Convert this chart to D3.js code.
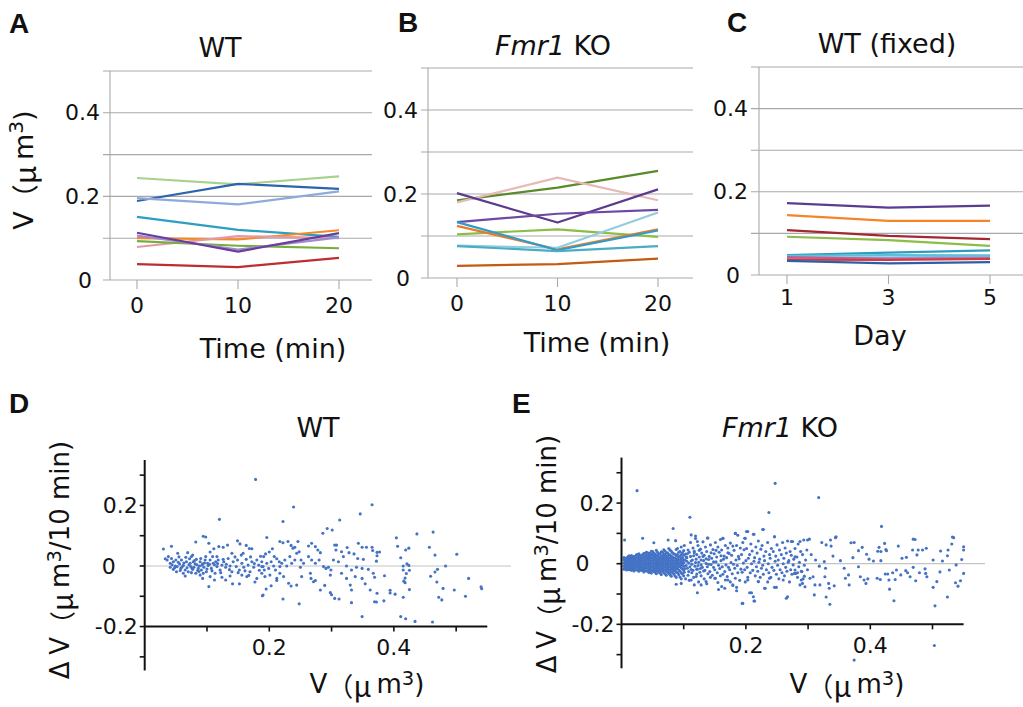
<!DOCTYPE html>
<html><head><meta charset="utf-8">
<script src="https://cdn.jsdelivr.net/npm/d3@7/dist/d3.min.js"></script>
<style>
html,body{margin:0;padding:0;background:#fff;}
svg{display:block;}
text{font-family:"DejaVu Sans","Noto Sans CJK JP",sans-serif;fill:#111;}
.cjk{font-family:"Noto Sans CJK JP",sans-serif;}
.letter{font-family:"Liberation Sans",Arial,sans-serif;font-weight:bold;}
</style></head>
<body>
<svg id="chart" width="1023" height="707"></svg>
<script>
// ---------------- DATA ----------------
const timeMin = [0, 10, 20];
const days = [1, 3, 5];
const lineYTicks = [0, 0.1, 0.2, 0.3, 0.4, 0.5];
const lineYLabels = [0, 0.2, 0.4];

// Panel A: WT spine volume (µm3) at 0, 10, 20 min
const wtSeries = [
  [0.244, 0.229, 0.248],
  [0.189, 0.230, 0.218],
  [0.196, 0.181, 0.212],
  [0.151, 0.120, 0.103],
  [0.100, 0.097, 0.119],
  [0.079, 0.105, 0.100],
  [0.093, 0.082, 0.076],
  [0.106, 0.073, 0.102],
  [0.113, 0.068, 0.112],
  [0.038, 0.031, 0.053]
];
const wtColors = ["#a9d18e","#2e63ad","#8eaadc","#2c9fc0","#f28a26","#e39aa3","#78ad3c","#a08bd2","#6a3f9b","#bb2f2f"];

// Panel B: Fmr1 KO spine volume
const koSeries = [
  [0.185, 0.215, 0.255],
  [0.180, 0.239, 0.185],
  [0.202, 0.132, 0.211],
  [0.133, 0.153, 0.162],
  [0.104, 0.116, 0.098],
  [0.124, 0.068, 0.116],
  [0.077, 0.072, 0.156],
  [0.133, 0.066, 0.113],
  [0.076, 0.064, 0.076],
  [0.029, 0.033, 0.046]
];
const koColors = ["#5a8a2a","#e7b9b8","#5b3b8e","#6f48a3","#8cbd47","#e8792a","#92cddc","#2f9bc8","#4bacc6","#c55a11"];

// Panel C: WT fixed, days 1, 3, 5
const fixedSeries = [
  [0.173, 0.162, 0.167],
  [0.144, 0.130, 0.130],
  [0.108, 0.094, 0.086],
  [0.092, 0.084, 0.070],
  [0.048, 0.054, 0.059],
  [0.046, 0.048, 0.047],
  [0.042, 0.042, 0.044],
  [0.043, 0.039, 0.040],
  [0.037, 0.036, 0.039],
  [0.034, 0.028, 0.031]
];
const fixedColors = ["#5b3d8f","#f4862a","#a3282f","#8cbd4a","#2d9cbf","#5bc0d8","#7fb2e0","#c0609a","#d63a3a","#2f5ea8"];

const scatterXTicks = [0.1, 0.2, 0.3, 0.4, 0.5];
const scatterXLabels = [0.2, 0.4];
const scatterYTicks = [-0.3, -0.2, -0.1, 0, 0.1, 0.2, 0.3];
const scatterYLabels = [-0.2, 0, 0.2];

// Panel D: WT, V vs dV (per 10 min)
const wtScatter = [
[0.178,0.286],[0.120,0.154],[0.094,0.098],[0.098,0.096],[0.030,0.056],[0.043,0.065],[0.082,0.079],[0.103,0.075],
[0.053,0.042],[0.069,0.044],[0.077,0.036],[0.111,0.057],[0.119,0.064],[0.126,0.062],[0.133,0.069],[0.149,0.083],
[0.153,0.073],[0.163,0.068],[0.168,0.058],[0.172,0.057],[0.105,0.046],[0.116,0.031],[0.140,0.042],[0.158,0.042],
[0.033,0.024],[0.036,0.020],[0.041,0.009],[0.046,0.014],[0.049,0.000],[0.052,-0.002],[0.056,0.007],[0.058,-0.008],
[0.062,0.002],[0.065,-0.013],[0.067,0.014],[0.072,0.024],[0.074,-0.002],[0.075,0.031],[0.078,0.014],[0.081,0.007],
[0.083,0.022],[0.086,-0.008],[0.088,0.000],[0.089,0.014],[0.091,-0.013],[0.093,0.007],[0.095,-0.004],[0.097,0.020],
[0.099,-0.019],[0.102,0.002],[0.105,0.020],[0.107,-0.008],[0.110,0.009],[0.113,-0.024],[0.116,-0.002],[0.118,0.020],
[0.121,-0.013],[0.124,0.003],[0.127,0.014],[0.130,-0.004],[0.134,0.025],[0.137,0.000],[0.140,-0.019],[0.142,0.014],
[0.147,-0.002],[0.149,0.020],[0.152,-0.013],[0.156,0.009],[0.159,-0.004],[0.163,0.022],[0.166,0.003],[0.169,-0.019],
[0.172,0.014],[0.175,-0.004],[0.180,0.020],[0.183,0.003],[0.188,0.014],[0.190,-0.002],
[0.062,-0.024],[0.065,-0.033],[0.075,-0.022],[0.089,-0.030],[0.094,-0.024],[0.105,-0.035],[0.093,-0.041],[0.112,-0.046],
[0.124,-0.037],[0.130,-0.046],[0.141,-0.059],[0.152,-0.059],[0.167,-0.031],[0.177,-0.053],[0.164,-0.035],[0.156,-0.030],
[0.137,-0.033],[0.103,-0.068],[0.189,-0.098],[0.180,-0.041],[0.188,-0.024],[0.041,-0.004],[0.046,-0.011],[0.051,-0.019],
[0.057,-0.015],[0.038,0.031],[0.043,0.025],[0.050,0.020],[0.059,0.020],[0.066,0.029],[0.079,-0.004],[0.085,-0.015],
[0.082,-0.024],[0.070,-0.019],[0.073,0.009],[0.077,-0.011],[0.090,0.025],[0.098,0.031],[0.101,0.009],[0.109,0.031],
[0.114,0.014],[0.044,0.004],[0.048,-0.006],[0.054,0.012],[0.060,-0.003],[0.063,0.010],[0.068,-0.006],[0.071,0.004],
[0.076,-0.008],[0.080,0.018],[0.084,0.004],[0.087,-0.018],[0.092,0.003],[0.096,0.010],[0.100,-0.010],[0.104,0.006],
[0.108,-0.016],[0.112,0.004],[0.117,0.008],[0.122,-0.022],[0.126,0.022],[0.131,0.006],[0.136,-0.012],[0.145,0.030],
[0.150,-0.022],[0.155,0.036],[0.161,-0.016],[0.170,0.030],[0.176,0.008],[0.184,-0.014],[0.186,0.032],[0.055,0.030],
[0.239,0.195],[0.222,0.147],[0.196,0.094],[0.365,0.202],[0.346,0.172],[0.313,0.152],[0.286,0.108],[0.293,0.124],
[0.301,0.119],[0.217,0.081],[0.222,0.077],[0.230,0.081],[0.246,0.081],[0.235,0.068],[0.241,0.062],[0.238,0.059],
[0.268,0.075],[0.263,0.066],[0.274,0.064],[0.278,0.053],[0.282,0.044],[0.305,0.069],[0.308,0.069],[0.307,0.053],
[0.316,0.047],[0.325,0.061],[0.328,0.044],[0.336,0.040],[0.343,0.075],[0.349,0.062],[0.356,0.062],[0.365,0.062],
[0.366,0.051],[0.351,0.022],[0.342,0.025],
[0.191,0.031],[0.194,0.040],[0.200,0.046],[0.205,0.057],[0.208,0.031],[0.212,0.024],[0.216,0.014],[0.203,0.014],
[0.196,0.009],[0.188,-0.002],[0.192,-0.013],[0.199,-0.008],[0.207,0.000],[0.210,-0.013],[0.217,-0.002],[0.220,0.009],
[0.225,0.020],[0.228,0.000],[0.233,0.031],[0.236,0.009],[0.241,0.020],[0.244,0.042],[0.248,0.047],[0.251,0.020],
[0.250,-0.004],[0.255,0.009],[0.263,0.031],[0.268,0.020],[0.274,0.009],[0.280,0.020],[0.287,-0.002],[0.291,-0.008],
[0.295,-0.004],[0.299,-0.013],[0.303,0.020],[0.311,0.014],[0.319,0.031],[0.324,0.000],[0.332,-0.013],[0.340,-0.004],
[0.349,-0.008],[0.359,-0.011],[0.367,-0.024],
[0.193,-0.035],[0.201,-0.030],[0.212,-0.041],[0.217,-0.024],[0.223,-0.035],[0.231,-0.057],[0.235,-0.066],[0.244,-0.063],
[0.252,-0.035],[0.266,-0.024],[0.267,-0.041],[0.271,-0.052],[0.274,-0.048],[0.282,-0.079],[0.289,-0.064],[0.298,-0.030],
[0.298,-0.088],[0.300,-0.095],[0.305,-0.107],[0.312,-0.109],[0.316,-0.024],[0.324,-0.041],[0.330,-0.063],[0.332,-0.079],
[0.332,-0.121],[0.338,-0.035],[0.349,-0.041],[0.354,-0.059],[0.362,-0.079],[0.372,-0.119],[0.349,-0.167],[0.248,-0.125],
[0.222,-0.109],[0.195,-0.076],[0.190,-0.096],[0.203,-0.065],[0.212,-0.048],
[0.373,0.045],[0.377,0.046],[0.373,0.034],[0.372,0.016],[0.369,-0.037],[0.385,-0.032],[0.373,-0.090],[0.369,-0.118],
[0.384,-0.115],[0.394,-0.080],[0.394,-0.089],[0.402,-0.093],[0.404,0.093],[0.406,0.065],[0.411,0.027],[0.415,0.000],
[0.415,-0.013],[0.419,0.053],[0.424,0.059],[0.421,0.007],[0.424,0.002],[0.425,-0.014],[0.420,-0.025],[0.418,-0.040],
[0.416,-0.050],[0.418,-0.055],[0.425,-0.078],[0.415,-0.103],[0.411,-0.167],[0.419,-0.174],[0.434,-0.183],[0.437,0.106],
[0.463,0.112],[0.457,0.062],[0.466,0.036],[0.470,-0.011],[0.466,-0.020],[0.459,-0.034],[0.469,-0.053],[0.483,0.000],
[0.479,-0.074],[0.472,-0.103],[0.477,-0.112],[0.462,-0.185],[0.501,0.039],[0.520,-0.041],[0.497,-0.079],[0.515,-0.100],
[0.540,-0.069],[0.541,-0.075]
];

// Panel E: Fmr1 KO, V vs dV (per 10 min)
const koScatter = [
[0.004,-0.018],[0.004,-0.008],[0.004,0.002],[0.004,0.012],[0.004,0.020],
[0.008,-0.021],[0.008,-0.011],[0.008,-0.001],[0.008,0.009],[0.008,0.019],
[0.012,-0.020],[0.012,-0.010],[0.012,0.000],[0.012,0.010],[0.012,0.020],[0.012,0.026],
[0.016,-0.022],[0.016,-0.012],[0.016,-0.003],[0.016,0.007],[0.016,0.017],[0.016,0.027],
[0.020,-0.024],[0.020,-0.014],[0.020,-0.004],[0.020,0.006],[0.020,0.016],[0.020,0.024],
[0.024,-0.021],[0.024,-0.011],[0.024,-0.001],[0.024,0.009],[0.024,0.019],[0.024,0.029],
[0.028,-0.025],[0.028,-0.015],[0.028,-0.005],[0.028,0.005],[0.028,0.015],[0.028,0.025],[0.028,0.033],
[0.032,-0.022],[0.032,-0.012],[0.032,-0.002],[0.032,0.008],[0.032,0.018],[0.032,0.028],
[0.036,-0.027],[0.036,-0.017],[0.036,-0.007],[0.036,0.003],[0.036,0.013],[0.036,0.023],[0.036,0.034],
[0.040,-0.024],[0.040,-0.014],[0.040,-0.004],[0.040,0.006],[0.040,0.016],[0.040,0.026],[0.040,0.038],
[0.044,-0.029],[0.044,-0.019],[0.044,-0.009],[0.044,0.001],[0.044,0.011],[0.044,0.021],[0.044,0.031],
[0.048,-0.031],[0.048,-0.021],[0.048,-0.011],[0.048,-0.001],[0.048,0.009],[0.048,0.019],[0.048,0.029],[0.048,0.041],
[0.052,-0.026],[0.052,-0.016],[0.052,-0.006],[0.052,0.004],[0.052,0.014],[0.052,0.024],[0.052,0.035],
[0.056,-0.033],[0.056,-0.023],[0.056,-0.013],[0.056,-0.003],[0.056,0.007],[0.056,0.017],[0.056,0.027],[0.056,0.044],
[0.060,-0.028],[0.060,-0.018],[0.060,-0.008],[0.060,0.002],[0.060,0.012],[0.060,0.022],[0.060,0.032],
[0.064,-0.036],[0.064,-0.024],[0.064,-0.014],[0.064,-0.004],[0.064,0.006],[0.064,0.016],[0.064,0.026],[0.064,0.039],
[0.068,-0.030],[0.068,-0.020],[0.068,-0.010],[0.068,0.000],[0.068,0.010],[0.068,0.020],[0.068,0.031],[0.068,0.046],
[0.072,-0.038],[0.072,-0.025],[0.072,-0.015],[0.072,-0.005],[0.072,0.005],[0.072,0.015],[0.072,0.025],[0.072,0.036],
[0.076,-0.032],[0.076,-0.021],[0.076,-0.011],[0.076,-0.001],[0.076,0.009],[0.076,0.019],[0.076,0.030],[0.076,0.050],
[0.080,-0.041],[0.080,-0.027],[0.080,-0.016],[0.080,-0.006],[0.080,0.004],[0.080,0.014],[0.080,0.024],[0.080,0.041],
[0.084,-0.034],[0.084,-0.022],[0.084,-0.012],[0.084,-0.002],[0.084,0.008],[0.084,0.018],[0.084,0.033],
[0.088,-0.045],[0.088,-0.028],[0.088,-0.017],[0.088,-0.007],[0.088,0.003],[0.088,0.013],[0.088,0.026],[0.088,0.047],
[0.092,-0.036],[0.092,-0.021],[0.092,-0.010],[0.092,0.001],[0.092,0.011],[0.092,0.022],[0.092,0.038],
[0.096,-0.050],[0.096,-0.030],[0.096,-0.014],[0.096,-0.004],[0.096,0.006],[0.096,0.017],[0.096,0.030],[0.096,0.055],
[0.100,-0.040],[0.100,-0.022],[0.100,-0.008],[0.100,0.003],[0.100,0.013],[0.100,0.028],[0.100,0.043],
[0.006,-0.014],[0.006,-0.004],[0.006,0.006],[0.006,0.015],
[0.010,-0.016],[0.010,-0.006],[0.010,0.004],[0.010,0.014],[0.010,0.022],
[0.014,-0.017],[0.014,-0.007],[0.014,0.004],[0.014,0.014],[0.014,0.023],
[0.018,-0.019],[0.018,-0.008],[0.018,0.002],[0.018,0.012],[0.018,0.021],
[0.022,-0.018],[0.022,-0.006],[0.022,0.004],[0.022,0.014],[0.022,0.024],
[0.026,-0.020],[0.026,-0.010],[0.026,0.000],[0.026,0.010],[0.026,0.020],[0.026,0.030],
[0.030,-0.019],[0.030,-0.008],[0.030,0.003],[0.030,0.013],[0.030,0.023],
[0.034,-0.022],[0.034,-0.012],[0.034,-0.002],[0.034,0.008],[0.034,0.018],[0.034,0.029],
[0.038,-0.020],[0.038,-0.009],[0.038,0.001],[0.038,0.011],[0.038,0.021],[0.038,0.031],
[0.042,-0.024],[0.042,-0.014],[0.042,-0.004],[0.042,0.006],[0.042,0.016],[0.042,0.026],[0.042,0.036],
[0.046,-0.026],[0.046,-0.016],[0.046,-0.006],[0.046,0.004],[0.046,0.014],[0.046,0.024],[0.046,0.034],
[0.050,-0.022],[0.050,-0.011],[0.050,-0.001],[0.050,0.009],[0.050,0.019],[0.050,0.030],[0.050,0.040],
[0.054,-0.028],[0.054,-0.018],[0.054,-0.008],[0.054,0.002],[0.054,0.012],[0.054,0.022],[0.054,0.032],
[0.058,-0.024],[0.058,-0.013],[0.058,-0.003],[0.058,0.007],[0.058,0.017],[0.058,0.028],[0.058,0.038],
[0.062,-0.031],[0.062,-0.019],[0.062,-0.009],[0.062,0.001],[0.062,0.011],[0.062,0.021],[0.062,0.033],
[0.066,-0.025],[0.066,-0.015],[0.066,-0.005],[0.066,0.005],[0.066,0.015],[0.066,0.025],[0.066,0.038],
[0.070,-0.033],[0.070,-0.020],[0.070,-0.010],[0.070,0.000],[0.070,0.010],[0.070,0.020],[0.070,0.030],[0.070,0.042],
[0.074,-0.027],[0.074,-0.016],[0.074,-0.006],[0.074,0.004],[0.074,0.014],[0.074,0.024],[0.074,0.036],
[0.078,-0.036],[0.078,-0.022],[0.078,-0.011],[0.078,-0.001],[0.078,0.009],[0.078,0.019],[0.078,0.029],[0.078,0.045],
[0.082,-0.029],[0.082,-0.017],[0.082,-0.007],[0.082,0.003],[0.082,0.013],[0.082,0.023],[0.082,0.036],
[0.086,-0.040],[0.086,-0.023],[0.086,-0.012],[0.086,-0.002],[0.086,0.008],[0.086,0.019],[0.086,0.031],
[0.090,-0.030],[0.090,-0.016],[0.090,-0.005],[0.090,0.006],[0.090,0.017],[0.090,0.030],[0.090,0.050],
[0.094,-0.044],[0.094,-0.025],[0.094,-0.009],[0.094,0.001],[0.094,0.012],[0.094,0.024],[0.094,0.040],
[0.098,-0.034],[0.098,-0.017],[0.098,-0.003],[0.098,0.008],[0.098,0.020],[0.098,0.036],
[0.101,0.060],[0.103,0.032],[0.102,0.012],[0.104,-0.006],[0.101,-0.028],[0.103,-0.050],[0.104,0.022],[0.102,-0.016],
[0.107,0.045],[0.105,0.020],[0.108,0.002],[0.106,-0.015],[0.107,-0.038],[0.106,0.033],[0.108,-0.026],[0.105,0.008],
[0.111,0.070],[0.109,0.038],[0.112,0.009],[0.110,-0.010],[0.113,-0.030],[0.109,-0.055],[0.111,0.024],[0.112,-0.019],
[0.115,0.052],[0.116,0.026],[0.113,-0.002],[0.115,-0.022],[0.116,-0.045],[0.114,0.012],[0.117,0.036],
[0.119,0.083],[0.117,0.041],[0.120,0.015],[0.118,-0.008],[0.121,-0.034],[0.117,-0.070],[0.119,0.004],[0.121,-0.018],
[0.123,0.060],[0.121,0.030],[0.124,0.005],[0.122,-0.018],[0.120,-0.042],[0.125,0.044],[0.123,-0.006],
[0.127,0.048],[0.125,0.022],[0.128,-0.004],[0.126,-0.028],[0.124,-0.060],[0.128,0.012],[0.127,-0.016],
[0.131,0.072],[0.129,0.035],[0.132,0.010],[0.130,-0.012],[0.128,-0.040],[0.131,0.024],[0.132,-0.024],
[0.135,0.055],[0.133,0.028],[0.136,0.001],[0.134,-0.022],[0.133,-0.050],[0.136,0.016],
[0.139,0.085],[0.137,0.040],[0.140,0.014],[0.138,-0.010],[0.139,-0.033],[0.137,-0.066],[0.140,-0.002],
[0.143,0.062],[0.141,0.024],[0.144,-0.003],[0.142,-0.026],[0.143,-0.045],[0.144,0.036],
[0.147,0.047],[0.145,0.018],[0.148,-0.012],[0.146,-0.038],[0.148,0.006],
[0.151,0.070],[0.149,0.033],[0.152,0.006],[0.150,-0.020],[0.151,-0.048],[0.152,0.044],
[0.155,0.055],[0.153,0.022],[0.156,-0.005],[0.154,-0.030],[0.155,-0.062],
[0.159,0.080],[0.157,0.038],[0.160,0.010],[0.158,-0.016],[0.159,-0.040],[0.160,0.026],
[0.163,0.084],[0.161,0.045],[0.164,0.015],[0.162,-0.010],[0.163,-0.035],[0.161,-0.075],
[0.167,0.060],[0.165,0.025],[0.168,-0.004],[0.166,-0.026],[0.167,-0.054],
[0.171,0.052],[0.169,0.020],[0.172,-0.012],[0.170,-0.042],[0.171,0.036],
[0.175,0.068],[0.173,0.034],[0.176,0.004],[0.174,-0.020],[0.175,-0.060],
[0.179,0.058],[0.177,0.028],[0.180,-0.002],[0.178,-0.033],[0.179,-0.072],
[0.183,0.100],[0.181,0.044],[0.184,0.012],[0.182,-0.015],[0.183,-0.048],
[0.187,0.094],[0.185,0.060],[0.188,0.024],[0.186,-0.006],[0.187,-0.030],[0.185,-0.089],
[0.191,0.052],[0.189,0.016],[0.192,-0.018],[0.190,-0.055],
[0.195,0.070],[0.193,0.030],[0.196,0.002],[0.194,-0.028],[0.195,-0.131],
[0.199,0.084],[0.197,0.046],[0.200,0.010],[0.198,-0.020],[0.199,-0.060],
[0.203,0.106],[0.201,0.050],[0.204,0.018],[0.202,-0.012],[0.203,-0.045],
[0.208,0.065],[0.206,0.030],[0.209,0.000],[0.207,-0.030],[0.206,-0.096],
[0.212,0.097],[0.210,0.042],[0.213,0.008],[0.211,-0.022],[0.212,-0.109],
[0.216,0.055],[0.214,0.020],[0.217,-0.010],[0.215,-0.040],[0.214,-0.123],
[0.220,0.075],[0.218,0.035],[0.221,0.005],[0.219,-0.025],[0.220,-0.059],
[0.224,0.048],[0.222,0.015],[0.225,-0.015],[0.223,-0.045],
[0.228,0.113],[0.226,0.060],[0.229,0.025],[0.227,-0.005],[0.228,-0.035],
[0.232,0.040],[0.230,0.010],[0.233,-0.020],[0.231,-0.081],
[0.237,0.169],[0.235,0.070],[0.238,0.030],[0.236,0.000],[0.237,-0.030],[0.235,-0.060],
[0.241,0.050],[0.239,0.018],[0.242,-0.012],[0.240,-0.045],
[0.246,0.089],[0.244,0.040],[0.247,0.008],[0.245,-0.022],[0.246,-0.078],
[0.250,0.062],[0.248,0.025],[0.251,-0.005],[0.249,-0.035],
[0.254,0.045],[0.252,0.012],[0.255,-0.020],[0.253,-0.050],
[0.259,0.070],[0.257,0.030],[0.260,0.000],[0.258,-0.030],
[0.263,0.052],[0.261,0.018],[0.264,-0.012],[0.262,-0.040],
[0.267,0.075],[0.265,0.035],[0.268,0.005],[0.266,-0.025],
[0.271,0.040],[0.269,0.010],[0.272,-0.020],[0.270,-0.060],
[0.275,0.073],[0.273,0.028],[0.276,-0.004],[0.274,-0.035],
[0.279,0.050],[0.277,0.015],[0.280,-0.032],
[0.284,0.065],[0.282,0.022],[0.285,-0.010],[0.283,-0.045],
[0.288,0.040],[0.286,0.005],[0.289,-0.025],[0.287,-0.070],
[0.293,0.078],[0.291,0.030],[0.294,-0.005],[0.292,-0.050],
[0.298,0.045],[0.296,0.012],[0.299,-0.020],
[0.025,0.241],[0.247,0.265],[0.317,0.218],[0.110,0.153],[0.083,0.116],[0.005,0.078],[0.034,0.084],[0.052,0.069],
[0.075,0.078],[0.087,0.076],[0.112,0.095],[0.119,0.091],[0.122,0.073],[0.138,0.085],[0.163,0.084],[0.183,0.100],
[0.201,0.106],[0.213,0.097],[0.227,0.113],[0.198,0.084],[0.246,0.089],[0.273,0.073],[0.418,0.123],
[0.088,-0.068],[0.122,-0.096],[0.156,-0.085],[0.166,-0.081],[0.185,-0.078],[0.194,-0.131],[0.209,-0.096],[0.213,-0.123],
[0.230,-0.081],[0.249,-0.078],[0.265,-0.114],[0.267,-0.109],[0.260,-0.054],[0.278,-0.032],[0.136,-0.059],[0.150,-0.048],
[0.112,-0.054],[0.096,-0.065],[0.128,-0.070],[0.171,-0.054],[0.179,-0.070],[0.220,-0.059],[0.238,-0.048],[0.203,-0.054],
[0.287,0.073],[0.299,0.078],[0.302,0.081],[0.322,0.070],[0.336,0.078],[0.344,0.086],[0.345,0.089],[0.329,0.062],
[0.337,0.058],[0.369,0.069],[0.374,0.070],[0.381,0.043],[0.387,0.054],[0.394,0.031],[0.405,0.009],[0.412,0.041],
[0.414,0.054],[0.417,0.040],[0.423,0.067],[0.425,0.047],[0.426,0.043],[0.417,0.010],[0.445,0.058],[0.451,0.018],
[0.458,0.021],[0.468,0.045],[0.469,0.081],[0.472,0.080],[0.475,0.029],[0.477,0.045],[0.484,0.045],[0.490,0.051],
[0.501,0.012],[0.513,0.042],[0.516,0.009],[0.525,0.045],[0.524,0.026],[0.531,0.065],[0.534,0.086],[0.547,0.014],
[0.550,0.056],[0.550,0.045],[0.538,-0.004],[0.532,0.088],
[0.279,0.023],[0.279,-0.021],[0.283,-0.030],[0.290,-0.026],[0.294,-0.041],[0.291,-0.065],[0.295,-0.076],[0.289,-0.054],
[0.303,-0.048],[0.310,-0.103],[0.308,-0.043],[0.311,-0.070],[0.319,-0.070],[0.326,0.007],[0.328,-0.015],[0.327,-0.043],
[0.329,-0.110],[0.333,-0.065],[0.334,-0.081],[0.335,-0.134],[0.342,-0.073],[0.360,-0.048],[0.365,-0.037],[0.366,-0.070],
[0.381,-0.010],[0.384,-0.043],[0.390,-0.054],[0.393,-0.065],[0.396,-0.050],[0.411,-0.048],[0.416,-0.052],[0.424,-0.034],
[0.428,-0.034],[0.430,-0.054],[0.431,-0.084],[0.438,-0.122],[0.436,-0.030],[0.440,-0.052],[0.442,-0.021],[0.449,-0.037],
[0.457,-0.023],[0.460,-0.030],[0.464,-0.043],[0.469,-0.012],[0.473,-0.056],[0.479,-0.030],[0.488,-0.017],[0.489,-0.032],
[0.491,-0.043],[0.501,-0.078],[0.504,-0.139],[0.507,-0.059],[0.512,-0.027],[0.524,-0.110],[0.527,-0.021],[0.537,-0.063],
[0.541,-0.074],[0.545,-0.056],[0.550,-0.032],[0.374,-0.318],[0.503,-0.270],
[0.305,0.030],[0.312,0.012],[0.318,-0.008],[0.340,0.025],[0.352,0.010],[0.358,-0.015],[0.372,0.020],[0.398,0.015]
];

// ---------------- DRAWING ----------------
const svg = d3.select("#chart");
const GRID = "#a9a9a9";

function panelLetter(txt, x, y) {
  svg.append("text").attr("class", "letter").attr("x", x).attr("y", y)
    .attr("font-size", 28).text(txt);
}

function title(parts, cx, cy, size) {
  const t = svg.append("text").attr("x", cx).attr("y", cy).attr("text-anchor", "middle")
    .attr("dominant-baseline", "central").attr("font-size", size);
  parts.forEach(p => {
    const s = t.append("tspan").text(p.t);
    if (p.i) s.attr("font-style", "italic");
  });
}

function linePanel(cfg) {
  const x = d3.scaleLinear().domain(cfg.xDomain).range(cfg.xRange);
  const y = d3.scaleLinear().domain([0, 0.5]).range([cfg.yBottom, cfg.yTop]);
  const g = svg.append("g");
  g.selectAll("line.grid").data(lineYTicks).join("line")
    .attr("x1", cfg.gridLeft).attr("x2", cfg.right)
    .attr("y1", d => y(d)).attr("y2", d => y(d))
    .attr("stroke", GRID).attr("stroke-width", 1.1);
  g.append("line").attr("x1", cfg.axisX).attr("x2", cfg.axisX)
    .attr("y1", y(0.5)).attr("y2", y(0)).attr("stroke", GRID).attr("stroke-width", 1.1);
  g.selectAll("line.xt").data(cfg.xTicks).join("line")
    .attr("x1", d => x(d)).attr("x2", d => x(d))
    .attr("y1", y(0)).attr("y2", y(0) + 9).attr("stroke", GRID).attr("stroke-width", 1.1);
  g.selectAll("text.yl").data(lineYLabels).join("text")
    .attr("x", d => d === 0 ? cfg.labelX - 8 : cfg.labelX)
    .attr("y", d => y(d)).attr("dominant-baseline", "central")
    .attr("text-anchor", "end").attr("font-size", 22).text(d => d3.format("")(d));
  g.selectAll("text.xl").data(cfg.xTicks).join("text")
    .attr("x", d => x(d)).attr("y", cfg.xLabelY).attr("dominant-baseline", "central")
    .attr("text-anchor", "middle").attr("font-size", 22).text(d => d);
  const line = d3.line().x((d, i) => x(cfg.xTicks[i])).y(d => y(d));
  g.selectAll("path.series").data(cfg.series).join("path")
    .attr("d", d => line(d)).attr("fill", "none")
    .attr("stroke", (d, i) => cfg.colors[i]).attr("stroke-width", 2.2)
    .attr("stroke-linejoin", "round");
}

linePanel({xDomain: [0, 20], xRange: [137, 339], xTicks: timeMin, yTop: 71, yBottom: 280,
  axisX: 110, gridLeft: 103, right: 372, labelX: 100, xLabelY: 305, series: wtSeries, colors: wtColors});
linePanel({xDomain: [0, 20], xRange: [457, 658], xTicks: timeMin, yTop: 68, yBottom: 278,
  axisX: 428, gridLeft: 421, right: 693, labelX: 418, xLabelY: 303, series: koSeries, colors: koColors});
linePanel({xDomain: [1, 5], xRange: [787, 990], xTicks: days, yTop: 67, yBottom: 275,
  axisX: 759, gridLeft: 751, right: 1023, labelX: 748, xLabelY: 297, series: fixedSeries, colors: fixedColors});

panelLetter("A", 9, 33);
panelLetter("B", 398, 32);
panelLetter("C", 727, 32);
panelLetter("D", 9, 413);
panelLetter("E", 512, 413);

title([{t: "WT"}], 220, 47, 27);
title([{t: "Fmr1", i: true}, {t: " KO"}], 553, 45, 27);
title([{t: "WT (fixed)"}], 887, 43, 27);
title([{t: "Time (min)"}], 273, 348, 27);
title([{t: "Time (min)"}], 597, 342, 27);
title([{t: "Day"}], 880, 335, 27);
title([{t: "WT"}], 318, 427, 27);
title([{t: "Fmr1", i: true}, {t: " KO"}], 780, 427, 27);

function volLabel(cx, cy, size, rotate, delta, tail) {
  const t = svg.append("text").attr("text-anchor", "middle").attr("dominant-baseline", "central")
    .attr("font-size", size)
    .attr("transform", rotate ? `translate(${cx},${cy}) rotate(-90)` : `translate(${cx},${cy})`);
  if (delta) t.append("tspan").text("Δ");
  t.append("tspan").attr("dx", delta ? size * 0.25 : 0).text("V");
  t.append("tspan").attr("class", "cjk").text("（");
  t.append("tspan").attr("class", "cjk").attr("font-size", size * 1.1).text("μ");
  t.append("tspan").attr("dx", size * 0.2).text("m");
  t.append("tspan").attr("font-size", size * 0.75).attr("dy", -size * 0.25).text("3");
  t.append("tspan").attr("dy", size * 0.25).text(tail);
}
volLabel(23, 170, 27, true, false, ")");
volLabel(60, 560, 26, true, true, "/10 min)");
volLabel(547, 554, 26, true, true, "/10 min)");
volLabel(367, 684, 26, false, false, ")");
volLabel(847, 684, 26, false, false, ")");

function scatterPanel(cfg) {
  const x = d3.scaleLinear().domain([0, 0.55]).range([cfg.x0, cfg.x1]);
  const y = d3.scaleLinear().domain([-0.35, 0.35]).range([cfg.yb, cfg.yt]);
  const g = svg.append("g");
  g.append("line").attr("x1", x(0) - 1).attr("x2", cfg.zeroRight)
    .attr("y1", y(0)).attr("y2", y(0)).attr("stroke", "#c4c4c4").attr("stroke-width", 1.2);
  g.selectAll("circle").data(cfg.data).join("circle")
    .attr("cx", d => x(d[0])).attr("cy", d => y(d[1])).attr("r", 1.55)
    .attr("fill", "#4472c4");
  g.append("line").attr("x1", x(0)).attr("x2", x(0)).attr("y1", y(0.35)).attr("y2", y(-0.345))
    .attr("stroke", "#111").attr("stroke-width", 2);
  g.append("line").attr("x1", x(0)).attr("x2", x(0.55)).attr("y1", y(-0.2)).attr("y2", y(-0.2))
    .attr("stroke", "#111").attr("stroke-width", 2);
  g.selectAll("line.yt").data(scatterYTicks).join("line")
    .attr("x1", x(0) - 5).attr("x2", x(0)).attr("y1", d => y(d)).attr("y2", d => y(d))
    .attr("stroke", "#111").attr("stroke-width", 1.6);
  g.selectAll("line.xt").data(scatterXTicks).join("line")
    .attr("x1", d => x(d)).attr("x2", d => x(d)).attr("y1", y(-0.2)).attr("y2", y(-0.2) + 5)
    .attr("stroke", "#111").attr("stroke-width", 1.6);
  g.selectAll("text.yl").data(scatterYLabels).join("text")
    .attr("x", d => d === 0 ? x(0) - 7 - cfg.zeroShift : x(0) - 7)
    .attr("y", d => y(d)).attr("dominant-baseline", "central").attr("text-anchor", "end")
    .attr("font-size", 22).text(d => d === 0 ? "0" : d3.format(".1f")(d).replace("−", "-"));
  g.selectAll("text.xl").data(scatterXLabels).join("text")
    .attr("x", d => x(d)).attr("y", y(-0.2) + 21).attr("dominant-baseline", "central")
    .attr("text-anchor", "middle").attr("font-size", 22).text(d => d3.format(".1f")(d));
}

scatterPanel({x0: 144.7, x1: 487.3, yb: 672, yt: 460, zeroRight: 511, zeroShift: 22, data: wtScatter});
scatterPanel({x0: 621.5, x1: 963.6, yb: 669.8, yt: 457.6, zeroRight: 985, zeroShift: 25, data: koScatter});
</script>
</body></html>
